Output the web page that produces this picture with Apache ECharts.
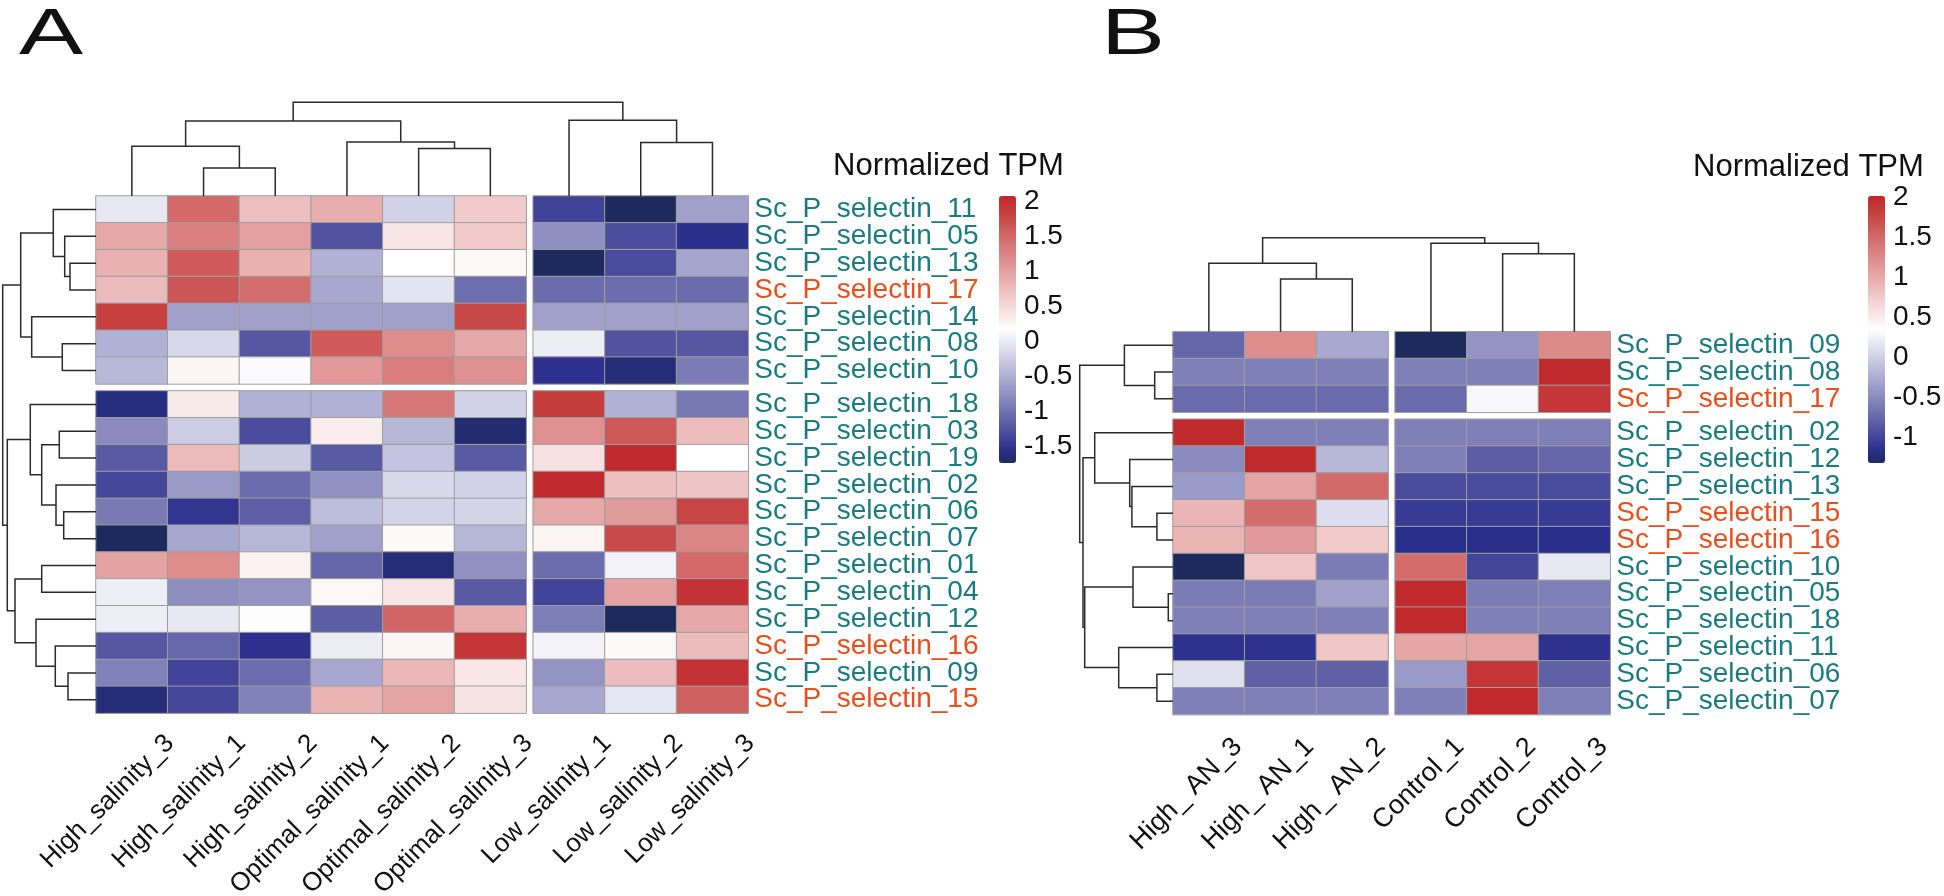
<!DOCTYPE html>
<html>
<head>
<meta charset="utf-8">
<script src="https://cdn.jsdelivr.net/npm/echarts@6/dist/echarts.min.js"></script>
<style>
  html, body { margin: 0; padding: 0; background: #fff; }
  #chart { width: 1944px; height: 896px; }
</style>
</head>
<body>
<div id="chart"></div>
<script>
// ---------- panel A : salinity ----------
const colsA = ['High_salinity_3', 'High_salinity_1', 'High_salinity_2',
  'Optimal_salinity_1', 'Optimal_salinity_2', 'Optimal_salinity_3',
  'Low_salinity_1', 'Low_salinity_2', 'Low_salinity_3'];
const rowsA = ['Sc_P_selectin_11', 'Sc_P_selectin_05', 'Sc_P_selectin_13', 'Sc_P_selectin_17',
  'Sc_P_selectin_14', 'Sc_P_selectin_08', 'Sc_P_selectin_10', 'Sc_P_selectin_18',
  'Sc_P_selectin_03', 'Sc_P_selectin_19', 'Sc_P_selectin_02', 'Sc_P_selectin_06',
  'Sc_P_selectin_07', 'Sc_P_selectin_01', 'Sc_P_selectin_04', 'Sc_P_selectin_12',
  'Sc_P_selectin_16', 'Sc_P_selectin_09', 'Sc_P_selectin_15'];
const highlightA = ['Sc_P_selectin_17', 'Sc_P_selectin_16', 'Sc_P_selectin_15'];
const valuesA = [
  [-0.02, 1.49, 0.73, 0.88, -0.21, 0.63, -1.40, -1.74, -0.62],
  [0.93, 1.29, 1.00, -1.26, 0.40, 0.65, -0.76, -1.30, -1.55],
  [0.86, 1.62, 0.86, -0.48, 0.17, 0.23, -1.74, -1.32, -0.58],
  [0.76, 1.66, 1.45, -0.56, -0.06, -1.03, -1.05, -1.04, -1.05],
  [1.85, -0.62, -0.62, -0.62, -0.62, 1.78, -0.62, -0.62, -0.62],
  [-0.48, -0.15, -1.22, 1.62, 1.18, 0.93, 0.02, -1.25, -1.22],
  [-0.42, 0.26, 0.14, 1.07, 1.32, 1.14, -1.53, -1.63, -0.92],
  [-1.60, 0.35, -0.48, -0.48, 1.36, -0.21, 1.89, -0.48, -0.95],
  [-0.80, -0.25, -1.32, 0.33, -0.44, -1.66, 1.14, 1.64, 0.75],
  [-1.19, 0.78, -0.26, -1.19, -0.33, -1.19, 0.44, 2.04, 0.17],
  [-1.36, -0.67, -1.05, -0.75, -0.15, -0.21, 2.04, 0.73, 0.69],
  [-0.94, -1.49, -1.16, -0.38, -0.19, -0.19, 0.93, 1.05, 1.81],
  [-1.74, -0.56, -0.44, -0.62, 0.22, -0.44, 0.27, 1.76, 1.24],
  [0.99, 1.18, 0.28, -1.09, -1.63, -0.75, -1.04, 0.06, 1.49],
  [0.03, -0.77, -0.72, 0.24, 0.39, -1.19, -1.38, 0.99, 1.98],
  [0.03, -0.02, 0.15, -1.17, 1.53, 0.88, -0.90, -1.74, 0.93],
  [-1.22, -1.08, -1.53, 0.01, 0.26, 1.95, 0.06, 0.22, 0.76],
  [-0.88, -1.38, -1.04, -0.56, 0.80, 0.38, -0.72, 0.75, 1.98],
  [-1.63, -1.36, -0.88, 0.84, 0.97, 0.42, -0.56, -0.04, 1.57]
];
// merges like R hclust: negative = leaf (-1 is the first), positive = earlier merge; last = height
const colTreeA = [[-2, -3, 28], [-1, 1, 49.7], [-5, -6, 47.4], [-4, 3, 54], [2, 4, 75],
  [-8, -9, 53.4], [-7, 6, 75.7], [5, 7, 93.7]];
const rowTreeA = [[-3, -4, 26], [-2, 1, 31.3], [-1, 2, 42.7], [-6, -7, 33.7], [-5, 4, 64.3],
  [3, 5, 75.3], [-9, -10, 36.7], [-12, -13, 32.3], [-11, 8, 40], [7, 9, 54.3], [-8, 10, 65.7],
  [-14, -15, 54.3], [-18, -19, 28], [-17, 13, 40.7], [-16, 14, 60], [12, 15, 81], [11, 16, 88.7],
  [6, 17, 93.3]];
const rangeA = [-1.74, 2.08];
const ticksA = [-1.5, -1, -0.5, 0, 0.5, 1, 1.5, 2];

// ---------- panel B : high AN ----------
const colsB = ['High_ AN_3', 'High_ AN_1', 'High_ AN_2', 'Control_1', 'Control_2', 'Control_3'];
const rowsB = ['Sc_P_selectin_09', 'Sc_P_selectin_08', 'Sc_P_selectin_17', 'Sc_P_selectin_02',
  'Sc_P_selectin_12', 'Sc_P_selectin_13', 'Sc_P_selectin_15', 'Sc_P_selectin_16',
  'Sc_P_selectin_10', 'Sc_P_selectin_05', 'Sc_P_selectin_18', 'Sc_P_selectin_11',
  'Sc_P_selectin_06', 'Sc_P_selectin_07'];
const highlightB = ['Sc_P_selectin_17', 'Sc_P_selectin_15', 'Sc_P_selectin_16'];
const valuesB = [
  [-0.75, 1.22, -0.28, -1.32, -0.43, 1.25],
  [-0.57, -0.57, -0.57, -0.57, -0.57, 2.00],
  [-0.72, -0.72, -0.72, -0.72, 0.30, 1.90],
  [2.00, -0.57, -0.57, -0.57, -0.57, -0.57],
  [-0.50, 2.00, -0.17, -0.57, -0.82, -0.75],
  [-0.38, 1.05, 1.50, -0.95, -0.95, -0.95],
  [0.92, 1.48, 0.10, -1.07, -1.07, -1.07],
  [0.92, 1.14, 0.77, -1.15, -1.15, -1.15],
  [-1.32, 0.80, -0.60, 1.48, -1.00, 0.18],
  [-0.60, -0.60, -0.33, 2.00, -0.60, -0.57],
  [-0.57, -0.57, -0.57, 2.00, -0.57, -0.57],
  [-1.13, -1.13, 0.80, 1.03, 1.03, -1.13],
  [0.12, -0.80, -0.80, -0.38, 1.90, -0.80],
  [-0.57, -0.57, -0.57, -0.57, 2.00, -0.57]
];
const colTreeB = [[-2, -3, 52.7], [-1, 1, 68.4], [-5, -6, 78], [-4, 3, 88.4], [2, 4, 94]];
const rowTreeB = [[-2, -3, 18.3], [-1, 1, 48.6], [-7, -8, 16.1], [-6, 3, 41.1], [-5, 4, 43.3],
  [-4, 5, 78.3], [-10, -11, 4.7], [-9, 7, 40], [-13, -14, 16.1], [-12, 9, 54.3], [8, 10, 88.3],
  [6, 11, 90], [2, 12, 93.3]];
const rangeB = [-1.32, 2.02];
const ticksB = [-1, -0.5, 0, 0.5, 1, 1.5, 2];

// ---------- styling ----------
const FONT = '"Liberation Sans", Arial, Helvetica, sans-serif';
const CW = 71.7, CH = 26.85, GAP = 7;
const TEAL = '#1b7b80', ORANGE = '#e5501e', INK = '#111';
const palette = ['#1e2a5c', '#2b2f8c', '#44479a', '#5c5da5', '#7475b2', '#8c8cbf', '#a3a3cd',
  '#babada', '#d1d1e7', '#e8e8f3', '#ffffff', '#f9e9e9', '#f4d4d4', '#edbebe', '#e6a8a8',
  '#e09292', '#d97d7d', '#d26767', '#cb5151', '#c53c3c', '#c0272b'];

const grid = [], xAxis = [], yAxis = [], series = [], visualMap = [], graphic = [];

function addGrid(left, top, width, height, xa, ya) {
  grid.push({ left, top, width, height, outerBoundsMode: 'none', containLabel: false });
  const gi = grid.length - 1;
  xAxis.push(Object.assign({ gridIndex: gi }, xa));
  yAxis.push(Object.assign({ gridIndex: gi }, ya));
  return gi;
}

function layoutTree(tree, leafPos) {
  const pos = [], hgt = [];
  const node = k => k < 0 ? [leafPos(-k - 1), 0] : [pos[k - 1], hgt[k - 1]];
  return tree.map(([a, b, h], i) => {
    const [pa, ha] = node(a), [pb, hb] = node(b);
    pos[i] = (pa + pb) / 2;
    hgt[i] = h;
    return [pa, ha, pb, hb, h];
  });
}

function dendro(gi, links, vertical) {
  series.push({
    type: 'custom', xAxisIndex: gi, yAxisIndex: gi, silent: true, data: links,
    renderItem: (params, api) => {
      const v = [0, 1, 2, 3, 4].map(d => api.value(d));
      const pts = [[v[0], v[1]], [v[0], v[4]], [v[2], v[4]], [v[2], v[3]]]
        .map(q => api.coord(vertical ? q : [q[1], q[0]]));
      return { type: 'polyline', shape: { points: pts },
        style: { stroke: '#2b2b2b', lineWidth: 1.5, fill: 'none' } };
    }
  });
}

function buildPanel(p) {
  const nc = p.cols.length, nr = p.rows.length;
  const colBlocks = [[0, p.colSplit], [p.colSplit, nc]];
  const rowBlocks = [[0, p.rowSplit], [p.rowSplit, nr]];
  const totalW = nc * CW + GAP, totalH = nr * CH + GAP;
  const heatIdx = [];

  rowBlocks.forEach(([r0, r1], bi) => {
    colBlocks.forEach(([c0, c1], bj) => {
      const gi = addGrid(
        p.left + c0 * CW + (bj ? GAP : 0), p.top + r0 * CH + (bi ? GAP : 0),
        (c1 - c0) * CW, (r1 - r0) * CH,
        { type: 'category', data: p.cols.slice(c0, c1), show: false },
        { type: 'category', data: p.rows.slice(r0, r1), inverse: true, position: 'right',
          axisLine: { show: false }, axisTick: { show: false }, splitLine: { show: false },
          axisLabel: { show: bj === 1, interval: 0, margin: 6, fontSize: 28, fontFamily: FONT,
            color: v => p.highlight.includes(v) ? ORANGE : TEAL } });
      const data = [];
      for (let r = r0; r < r1; r++)
        for (let c = c0; c < c1; c++) data.push([c - c0, r - r0, p.values[r][c]]);
      series.push({ type: 'heatmap', xAxisIndex: gi, yAxisIndex: gi, data, silent: true,
        itemStyle: { borderColor: '#9e9e9e', borderWidth: 1 }, emphasis: { disabled: true } });
      heatIdx.push(series.length - 1);
    });
  });

  // column labels, rotated
  const bottom = p.top + totalH;
  colBlocks.forEach(([c0, c1], bj) => {
    addGrid(p.left + c0 * CW + (bj ? GAP : 0) + p.labelDx, bottom - 1, (c1 - c0) * CW, 1,
      { type: 'category', data: p.cols.slice(c0, c1), position: 'bottom',
        axisLine: { show: false }, axisTick: { show: false },
        axisLabel: { interval: 0, rotate: 45, margin: p.labelMargin, fontSize: p.labelSize,
          fontFamily: FONT, color: INK } },
      { type: 'value', show: false });
  });

  // dendrograms
  const colPos = i => i + 0.5 + (i >= p.colSplit ? GAP / CW : 0);
  const rowPos = i => i + 0.5 + (i >= p.rowSplit ? GAP / CH : 0);
  let gi = addGrid(p.left, p.top - 100, totalW, 100,
    { type: 'value', min: 0, max: nc + GAP / CW, show: false },
    { type: 'value', min: 0, max: 100, show: false });
  dendro(gi, layoutTree(p.colTree, colPos), true);
  gi = addGrid(p.left - 100, p.top, 100, totalH,
    { type: 'value', min: 0, max: 100, inverse: true, show: false },
    { type: 'value', min: 0, max: nr + GAP / CH, inverse: true, show: false });
  dendro(gi, layoutTree(p.rowTree, rowPos), false);

  // colour key
  visualMap.push({ type: 'continuous', min: p.range[0], max: p.range[1], seriesIndex: heatIdx,
    inRange: { color: palette }, calculable: false, hoverLink: false, orient: 'vertical',
    left: p.barX, top: p.barTop, itemWidth: 17, itemHeight: p.barH, padding: 0, text: null });
  addGrid(p.barX, p.barTop, 17, p.barH,
    { type: 'value', show: false },
    { type: 'value', min: p.range[0], max: p.range[1], position: 'right',
      axisLine: { show: false }, axisTick: { show: false }, splitLine: { show: false },
      axisLabel: { customValues: p.ticks, margin: 8, fontSize: 28, fontFamily: FONT, color: INK } });
  graphic.push({ type: 'text', x: p.titleX, y: p.titleY, silent: true,
    style: { text: 'Normalized TPM', font: '31px ' + FONT, fill: INK, verticalAlign: 'middle' } });
  graphic.push({ type: 'text', x: p.letterX, y: 36, scaleX: 1.5, silent: true,
    style: { text: p.letter, font: '64px ' + FONT, fill: INK, verticalAlign: 'middle' } });
}

buildPanel({ letter: 'A', letterX: 19, cols: colsA, rows: rowsA, values: valuesA,
  highlight: highlightA, colSplit: 6, rowSplit: 7, colTree: colTreeA, rowTree: rowTreeA,
  left: 96, top: 196, labelDx: 38, labelMargin: 26, labelSize: 26, range: rangeA, ticks: ticksA,
  barX: 999, barTop: 196, barH: 267, titleX: 833, titleY: 166 });
buildPanel({ letter: 'B', letterX: 1101, cols: colsB, rows: rowsB, values: valuesB,
  highlight: highlightB, colSplit: 3, rowSplit: 3, colTree: colTreeB, rowTree: rowTreeB,
  left: 1173, top: 331.7, labelDx: 29, labelMargin: 28, labelSize: 27, range: rangeB, ticks: ticksB,
  barX: 1868, barTop: 196, barH: 267, titleX: 1693, titleY: 167 });

const chart = echarts.init(document.getElementById('chart'), null, { renderer: 'canvas' });
chart.setOption({
  backgroundColor: '#fff',
  animation: false,
  grid, xAxis, yAxis, series, visualMap, graphic
});
</script>
</body>
</html>
